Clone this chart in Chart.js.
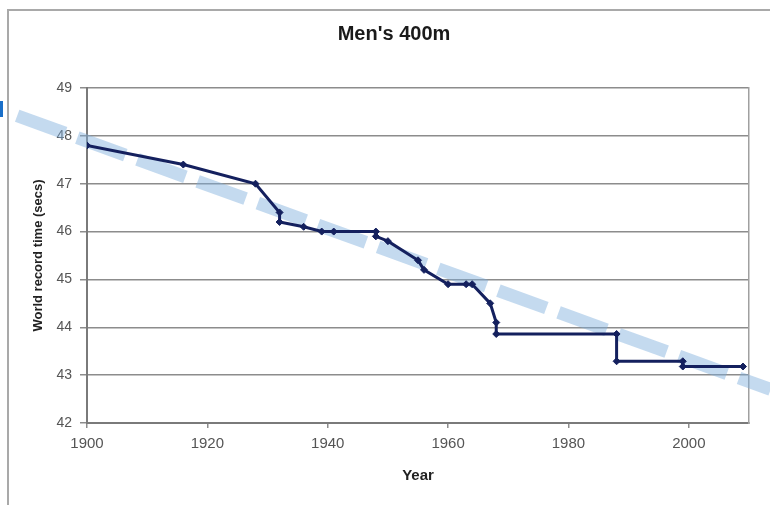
<!DOCTYPE html>
<html>
<head>
<meta charset="utf-8">
<title>Men's 400m</title>
<script src="https://cdn.jsdelivr.net/npm/chart.js@4.4.1/dist/chart.umd.min.js"></script>
<style>
  body { margin: 0; background: #fff; overflow: hidden; }
  #wrap { position: relative; width: 770px; height: 505px; }
  #frame { position: absolute; left: 7px; top: 9px; width: 800px; height: 600px;
           border: 2px solid #a9a9a9; box-sizing: border-box; }
  #mark { position: absolute; left: 0; top: 101px; width: 3px; height: 16px; background: #1a6fc9; }
  #myChart { position: absolute; left: 0; top: 0; }
</style>
</head>
<body>
<div id="wrap">
  <div id="frame"></div>
  <div id="mark"></div>
  <canvas id="myChart" width="770" height="505"></canvas>
</div>
<script>
Chart.defaults.font.family = '"Liberation Sans", Arial, sans-serif';

// data (year, world record time in secs)
const years = [1900, 1916, 1928, 1932, 1932, 1936, 1939, 1941, 1948, 1948, 1950, 1955,
               1956, 1960, 1963, 1964, 1967, 1968, 1968, 1988, 1988, 1999, 1999, 2009];
const times = [47.8, 47.4, 47.0, 46.4, 46.2, 46.1, 46.0, 46.0, 46.0, 45.9, 45.8, 45.4,
               45.2, 44.9, 44.9, 44.9, 44.5, 44.1, 43.86, 43.86, 43.29, 43.29, 43.18, 43.18];

// hand drawn dashed trend (two ends)
const trendYears = [1888.4, 2013.6];
const trendTimes = [48.42, 42.70];

// tick labels
const xTicks = [1900, 1920, 1940, 1960, 1980, 2000];
const yTicks = [42, 43, 44, 45, 46, 47, 48, 49];

const navy = '#14205e';
const gridColor = '#8c8c8c';

const data = {
    datasets: [{
        label: 'Record',
        data: years.map((y, i) => ({ x: y, y: times[i] })),
        borderColor: navy,
        backgroundColor: navy,
        borderWidth: 3,
        pointStyle: 'rectRot',
        pointRadius: 3.5,
        pointBorderWidth: 1,
        order: 1
    }, {
        label: 'Trend',
        data: trendYears.map((y, i) => ({ x: y, y: trendTimes[i] })),
        // see-through so the "48" label still shows under it
        borderColor: 'rgba(124, 173, 219, 0.45)',
        borderWidth: 13,
        borderDash: [51, 13],
        borderCapStyle: 'butt',
        pointRadius: 0,
        clip: false,
        order: 2
    }]
};

const config = {
    type: 'line',
    data: data,
    options: {
        responsive: false,
        animation: false,
        layout: { padding: { left: 21, right: 3, top: 0, bottom: 10 } },
        plugins: {
            legend: { display: false },
            tooltip: { enabled: false },
            title: {
                display: true,
                text: "Men's 400m",
                color: '#1a1a1a',
                font: { size: 20, weight: 'bold' },
                padding: { top: 22, bottom: 42 }
            }
        },
        scales: {
            x: {
                type: 'linear',
                min: 1900,
                max: 2010,
                afterBuildTicks: s => { s.ticks = xTicks.map(v => ({ value: v })); },
                afterFit: s => { s.height = 72; },
                grid: {
                    drawOnChartArea: false,
                    drawTicks: true,
                    tickLength: 5,
                    color: gridColor,
                    lineWidth: 1.5
                },
                border: { color: '#7a7a7a', width: 2 },
                ticks: {
                    color: '#555',
                    font: { size: 15 },
                    padding: 7,
                    maxRotation: 0,
                    callback: v => String(v)
                },
                title: {
                    display: true,
                    text: 'Year',
                    color: '#222',
                    font: { size: 15, weight: 'bold' },
                    padding: { top: 0, bottom: 10 }
                }
            },
            y: {
                min: 42,
                max: 49,
                afterBuildTicks: s => { s.ticks = yTicks.map(v => ({ value: v })); },
                afterFit: s => { s.width = 66; },
                grid: {
                    color: gridColor,
                    lineWidth: 1.5,
                    tickLength: 7
                },
                border: { color: '#7a7a7a', width: 2 },
                ticks: {
                    color: '#555',
                    font: { size: 14 },
                    padding: 8
                },
                title: {
                    display: true,
                    text: 'World record time (secs)',
                    color: '#222',
                    font: { size: 13, weight: 'bold' },
                    padding: { top: 10, bottom: 0 }
                }
            },
            // right edge of the plot box
            y2: {
                position: 'right',
                min: 42,
                max: 49,
                afterFit: s => { s.width = 18; },
                grid: { drawOnChartArea: false, drawTicks: false },
                ticks: { display: false },
                border: { color: '#a0a0a0', width: 1.5 }
            }
        }
    }
};

var ctx = document.getElementById('myChart').getContext('2d');
var myChart = new Chart(ctx, config);
</script>
</body>
</html>
